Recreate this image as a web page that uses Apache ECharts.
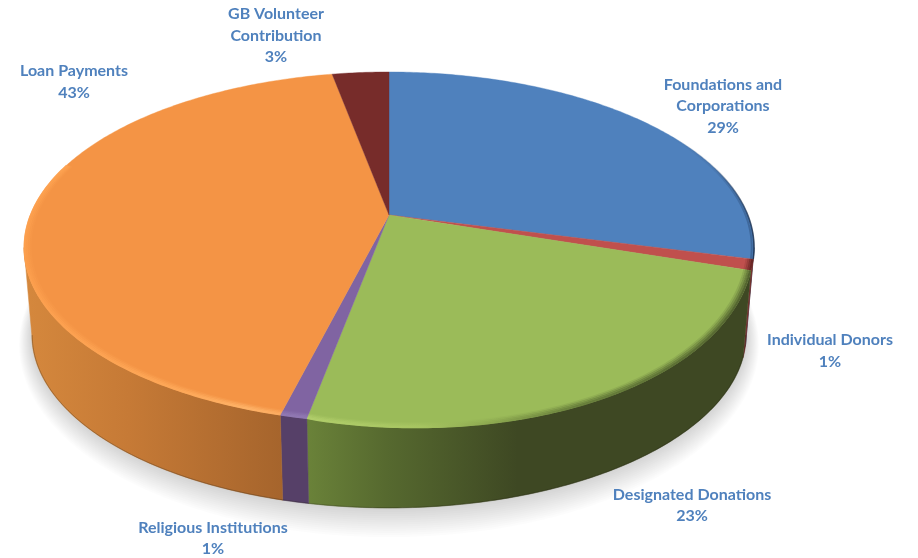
<!DOCTYPE html>
<html><head><meta charset="utf-8">
<style>html,body{margin:0;padding:0;background:#fff}#c{width:918px;height:558px}</style>
<script src="https://cdn.jsdelivr.net/npm/echarts@6/dist/echarts.min.js"></script>
</head><body><div id="c"></div>
<script>
const categories = ['Foundations and\nCorporations','Individual Donors','Designated Donations','Religious Institutions','Loan Payments','GB Volunteer\nContribution'];
const shares = [29,1,23,1,43,3];

// styling and layout, separate from the data
const topColors = ['#4f81bd','#c0504d','#9bbb59','#8064a2','#f49445','#772c2a'];
const wallStops = [
  [[0,'#2b4668'],[1,'#1f3552']],
  [[0,'#7a2f2d'],[1,'#7a2f2d']],
  [[0,'#6a8239'],[0.18,'#56692f'],[0.48,'#3e4823'],[1,'#3e4823']],
  [[0,'#564068'],[1,'#564068']],
  [[0,'#d5883d'],[0.4,'#c67a36'],[1,'#a5642c']],
  [[0,'#5a2020'],[1,'#5a2020']]
];
const wallRange = [[640,760],[640,760],[308,745],[280,310],[24,285],[300,340]];
const bevelStops = [
  [[0,'rgba(20,40,70,0)'],[0.5,'rgba(20,40,70,0.2)'],[1,'rgba(20,40,70,0.9)']],
  [[0,'rgba(70,20,20,.5)'],[1,'rgba(70,20,20,.8)']],
  [[0,'#b2cf6b'],[0.25,'#a8c662'],[0.42,'#8aa64e'],[0.6,'#667d3a'],[1,'#4c5b2b']],
  [[0,'#9179b3'],[1,'#9179b3']],
  [[0,'#fda04e'],[0.6,'#ffa959'],[0.85,'#ffb469'],[1,'#fdac60']],
  [[0,'#772c2a'],[1,'#772c2a']]
];
const bevelRange = [[670,756],[700,756],[308,752],[280,310],[24,285],[300,340]];
const labelAt = [[723,106],[830,351],[692,505.5],[213,538.5],[74,82],[276,35.5]];

const TOP = {cx:389, R:358.7, a:129.7, b:215, c:-0.185, bulge:9};
const BASE = {cx:389, R:351, a:111, b:303, c:-0.185, bulge:0};
const WALL_FROM = 100.7, WALL_TO = 259.3, BEVEL_TO = 288;
const SHADOW_STEPS = 14;
function project(p, deg, r){
  const t = deg*Math.PI/180, u = r*Math.sin(t), v = -r*Math.cos(t), d = 1+p.c*v;
  // the front right of the reference's rim hangs a little lower than a pure projection
  let dy = 0;
  if(p.bulge && deg>108 && deg<190.8){
    const s = Math.sin(Math.PI*(deg-108)/82.8);
    dy = p.bulge*r*r*Math.pow(s,0.8);
  }
  return [p.cx + p.R*u/d, (p.a*v+p.b)/d + dy];
}
function arc(p, a0, a1, r){
  const n = Math.max(2, Math.ceil((a1-a0)*1.5)), pts = [];
  for(let i=0;i<=n;i++) pts.push(project(p, a0+(a1-a0)*i/n, r===undefined?1:r));
  return pts;
}
const hGrad = (range, stops) => new echarts.graphic.LinearGradient(range[0],0,range[1],0,
  stops.map(s=>({offset:s[0],color:s[1]})), true);

function renderItem(params, api){
  const i = params.dataIndex, val = api.value(0);
  const total = shares.reduce((s,x)=>s+x,0);
  let before = 0; for(let k=0;k<i;k++) before += shares[k];
  const a0 = before/total*360, a1 = a0 + val/total*360;
  const children = [];
  if(i===0){
    for(let k=SHADOW_STEPS;k>=1;k--){
      const p = {cx:BASE.cx, R:BASE.R+k*0.9, a:BASE.a+k*1.25, b:BASE.b+k*0.45, c:BASE.c, bulge:0};
      children.push({type:'polygon', z2:0, shape:{points:arc(p,60,300)},
        style:{fill:'rgba(0,0,0,0.013)'}});
    }
  }
  const w0 = Math.max(a0,WALL_FROM), w1 = Math.min(a1,WALL_TO);
  if(w1>w0){
    const pts = arc(TOP,w0,w1).concat(arc(BASE,w0,w1).reverse());
    children.push({type:'polygon', z2:2, shape:{points:pts},
      style:{fill:hGrad(wallRange[i],wallStops[i]), stroke:hGrad(wallRange[i],wallStops[i]), lineWidth:0.5}});
    children.push({type:'polyline', z2:3, shape:{points:arc(BASE,w0,w1,0.999)},
      style:{fill:null, stroke:'rgba(30,25,10,0.28)', lineWidth:1}});
  }
  children.push({type:'polygon', z2:5, shape:{points:[project(TOP,0,0)].concat(arc(TOP,a0,a1))},
    style:{fill:topColors[i], stroke:topColors[i], lineWidth:0.4}});
  const grad = hGrad(bevelRange[i],bevelStops[i]);
  const bv = i===0 ? [[1,1.6,.9],[.994,2,.35]] : i===5 ? [] :
    [[0.998,2.2,.9],[0.993,2.2,.65],[0.988,2.2,.4],[0.983,2.2,.18]];
  bv.forEach(b=>{
    let s=a0, e=Math.min(a1,BEVEL_TO);
    if(i===0) s=Math.max(a0,40);
    if(e>s) children.push({type:'polyline', z2:6, shape:{points:arc(TOP,s,e,b[0])},
      style:{fill:null, stroke:grad, lineWidth:b[1], opacity:b[2]}});
  });
  children.push({type:'text', z2:10, style:{
    text: categories[i]+'\n'+val+'%', x:labelAt[i][0], y:labelAt[i][1],
    align:'center', verticalAlign:'middle', textAlign:'center', textVerticalAlign:'middle',
    font:'bold 16px Lato', lineHeight:21.5, fill:'#4f81bd'}});
  return {type:'group', children};
}
const chart = echarts.init(document.getElementById('c'), null, {renderer:'canvas'});
chart.setOption({
  animation:false,
  backgroundColor:'#fff',
  series:[{type:'custom', coordinateSystem:'none', silent:true, clip:false,
    renderItem, data:shares.map((v,i)=>({name:categories[i], value:[v]}))}]
});
</script></body></html>
